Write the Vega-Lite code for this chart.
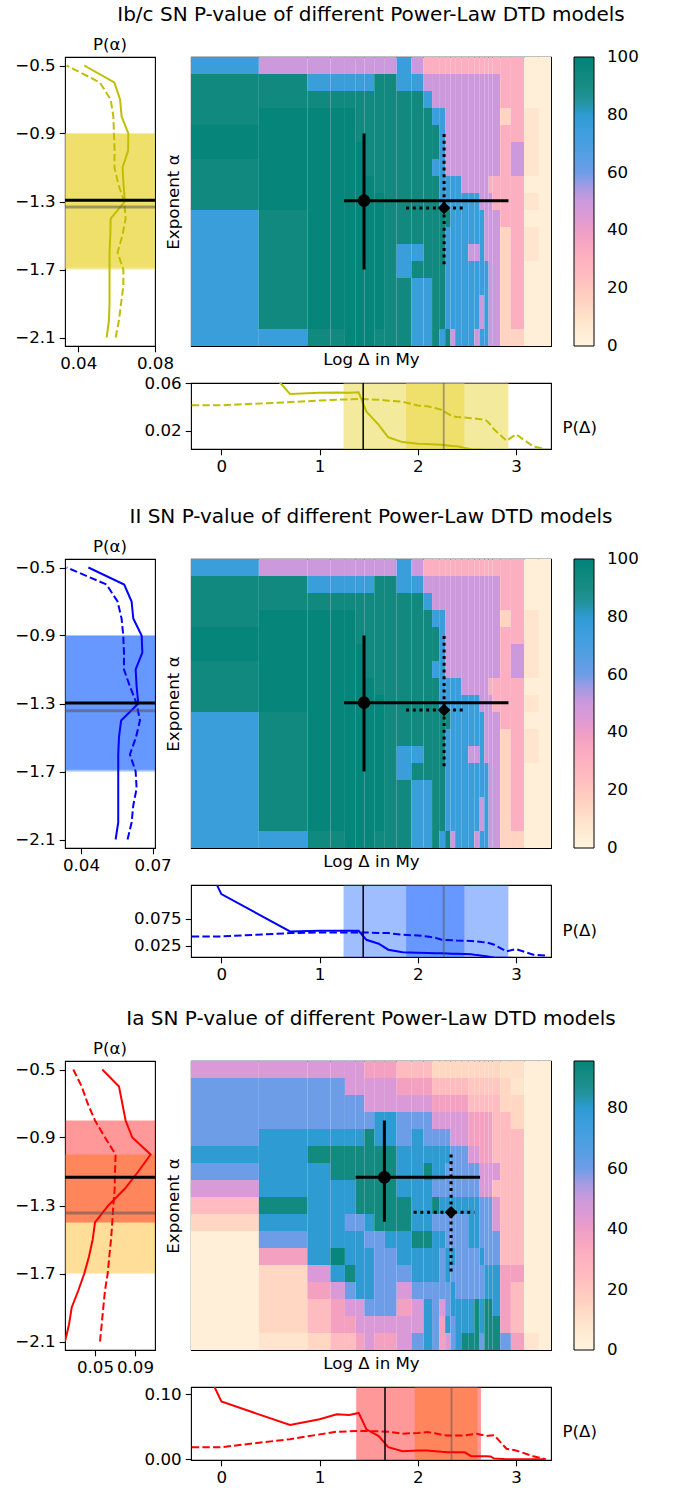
{
"$schema": "https://vega.github.io/schema/vega-lite/v6.json",
"background": "white",
"padding": {"left": 14, "top": 4, "right": 5, "bottom": 5},
"columns": 2,
"bounds": "flush",
"align": "each",
"spacing": {"row": 37, "column": 36},
"resolve": {"scale": {"color": "independent", "strokeDash": "independent", "shape": "independent"}, "legend": {"color": "independent"}},
"config": {
  "font": "DejaVu Sans",
  "view": {"stroke": "black", "strokeWidth": 1.1},
  "axis": {"grid": false, "domain": false, "labelFontSize": 16.67, "titleFontSize": 16.67, "titleFontWeight": "normal", "labelColor": "black", "titleColor": "black", "tickColor": "black", "tickSize": 5.8, "tickWidth": 1.1, "labelPadding": 4, "labelFlush": false, "labelOverlap": false, "labelBound": false, "titlePadding": 6},
  "title": {"fontSize": 16.67, "fontWeight": "normal", "color": "black"},
  "line": {"strokeWidth": 2}
},
"datasets": {
  "cols": [{"i":1,"lo":-0.35,"hi":0.35},{"i":2,"lo":0.35,"hi":0.85},{"i":3,"lo":0.85,"hi":1.088},{"i":4,"lo":1.088,"hi":1.238},{"i":5,"lo":1.238,"hi":1.35},{"i":6,"lo":1.35,"hi":1.438},{"i":7,"lo":1.438,"hi":1.54},{"i":8,"lo":1.54,"hi":1.65},{"i":9,"lo":1.65,"hi":1.772},{"i":10,"lo":1.772,"hi":1.923},{"i":11,"lo":1.923,"hi":2.049},{"i":12,"lo":2.049,"hi":2.137},{"i":13,"lo":2.137,"hi":2.21},{"i":14,"lo":2.21,"hi":2.272},{"i":15,"lo":2.272,"hi":2.327},{"i":16,"lo":2.327,"hi":2.375},{"i":17,"lo":2.375,"hi":2.438},{"i":18,"lo":2.438,"hi":2.51},{"i":19,"lo":2.51,"hi":2.573},{"i":20,"lo":2.573,"hi":2.628},{"i":21,"lo":2.628,"hi":2.676},{"i":22,"lo":2.676,"hi":2.72},{"i":23,"lo":2.72,"hi":2.759},{"i":24,"lo":2.759,"hi":2.84},{"i":25,"lo":2.84,"hi":2.95},{"i":26,"lo":2.95,"hi":3.088},{"i":27,"lo":3.088,"hi":3.239},{"i":28,"lo":3.239,"hi":3.364}],
  "hm12": [
    {"a":-0.5,"p":[76,50,50,50,50,50,50,50,50,76,50,32,32,32,32,32,32,32,32,32,32,32,32,32,32,32,3,3]},
    {"a":-0.6,"p":[93,93,76,76,76,76,76,93,93,76,76,50,50,50,50,50,50,50,50,50,50,50,50,50,32,32,3,3]},
    {"a":-0.7,"p":[93,93,93,93,93,93,93,93,93,93,93,76,50,50,50,50,50,50,50,50,50,50,50,50,32,32,3,3]},
    {"a":-0.8,"p":[93,98,98,98,98,93,93,93,93,93,93,93,76,76,50,50,50,50,50,50,50,50,50,50,15,32,8,3]},
    {"a":-0.9,"p":[98,98,98,98,98,93,93,93,93,93,93,93,93,76,50,50,50,50,50,50,50,50,50,50,32,32,8,3]},
    {"a":-1.0,"p":[98,98,98,98,98,98,93,93,93,93,93,93,93,76,50,50,50,50,50,50,50,50,50,50,32,50,8,3]},
    {"a":-1.1,"p":[93,98,98,98,98,98,93,93,93,93,93,93,76,76,50,50,50,50,50,50,50,50,50,50,32,50,8,3]},
    {"a":-1.2,"p":[93,98,98,98,98,98,98,93,93,93,93,93,93,76,76,76,76,50,50,50,50,50,32,32,32,32,3,3]},
    {"a":-1.3,"p":[93,98,98,98,98,98,98,98,93,93,93,93,93,76,76,76,76,76,76,76,50,50,50,32,32,32,8,3]},
    {"a":-1.4,"p":[76,93,98,98,98,98,98,98,93,93,93,93,93,93,93,76,76,76,76,76,76,50,50,50,32,32,3,3]},
    {"a":-1.5,"p":[76,93,98,98,98,98,98,98,93,93,93,93,93,93,76,76,76,76,76,76,76,50,50,50,15,32,8,3]},
    {"a":-1.6,"p":[76,93,98,98,98,98,98,98,93,76,76,93,93,93,76,76,76,76,50,50,76,50,50,50,15,32,8,3]},
    {"a":-1.7,"p":[76,93,98,98,98,98,98,98,93,76,93,93,93,93,76,76,76,76,76,76,76,76,50,50,15,32,3,3]},
    {"a":-1.8,"p":[76,93,98,98,98,98,98,98,93,93,76,76,93,93,76,76,76,76,76,76,76,76,50,50,15,32,3,3]},
    {"a":-1.9,"p":[76,93,98,98,98,98,98,98,93,93,76,76,93,93,76,76,76,76,76,76,50,76,50,50,15,32,3,3]},
    {"a":-2.0,"p":[76,93,98,98,98,98,98,98,93,93,76,76,93,93,76,76,76,76,76,76,50,76,50,50,15,32,3,3]},
    {"a":-2.1,"p":[76,76,93,93,98,98,98,93,93,93,76,76,93,76,93,50,76,76,76,50,76,76,50,50,15,15,3,3]}
  ],
  "hm3": [
    {"a":-0.5,"p":[46,46,46,46,46,46,38,38,38,24,24,24,14,14,14,14,14,14,14,14,14,14,14,14,10,10,3,3]},
    {"a":-0.6,"p":[60,60,60,60,46,46,46,46,46,38,38,38,24,24,24,24,24,24,20,20,20,20,20,20,14,8,3,3]},
    {"a":-0.7,"p":[60,60,60,60,60,60,46,46,46,46,46,46,38,38,38,38,38,38,24,24,24,24,24,24,14,14,3,3]},
    {"a":-0.8,"p":[60,60,60,60,60,60,60,80,80,60,60,60,46,46,46,46,46,46,38,38,38,38,38,24,24,14,3,3]},
    {"a":-0.9,"p":[60,80,80,80,80,80,92,80,80,60,80,60,60,60,60,46,46,46,38,38,38,38,38,24,24,24,3,3]},
    {"a":-1.0,"p":[80,80,92,92,92,92,92,92,92,80,80,80,80,80,80,60,60,60,46,46,38,38,38,24,24,24,3,3]},
    {"a":-1.1,"p":[60,80,80,92,92,92,92,92,92,80,80,92,80,80,60,60,60,60,60,60,46,46,46,46,24,24,3,3]},
    {"a":-1.2,"p":[46,80,80,80,80,92,92,92,92,80,80,80,60,60,60,60,60,60,60,60,46,46,46,24,24,24,3,3]},
    {"a":-1.3,"p":[24,92,80,80,80,92,92,92,92,92,80,80,92,80,80,80,80,80,80,80,60,60,60,46,24,24,3,3]},
    {"a":-1.4,"p":[14,80,80,80,60,60,80,92,92,92,80,80,60,60,60,60,60,60,80,80,60,60,60,46,24,24,3,3]},
    {"a":-1.5,"p":[3,60,80,80,80,80,60,60,80,80,92,92,80,80,60,60,60,60,80,80,60,60,60,60,24,24,3,3]},
    {"a":-1.6,"p":[3,38,80,95,80,80,80,60,60,80,80,80,80,60,80,80,60,60,60,60,80,60,60,60,24,24,3,3]},
    {"a":-1.7,"p":[3,14,46,80,92,80,80,60,60,60,80,80,80,60,80,60,60,60,60,60,60,80,80,80,38,38,3,3]},
    {"a":-1.8,"p":[3,14,38,46,60,80,80,60,60,46,60,60,60,60,60,80,60,60,60,60,60,80,80,80,38,24,3,3]},
    {"a":-1.9,"p":[3,14,24,38,46,46,60,60,60,38,46,80,60,46,60,80,80,80,80,92,80,92,92,80,38,24,3,3]},
    {"a":-2.0,"p":[3,14,24,38,38,46,46,46,46,46,46,80,60,38,80,60,80,80,80,92,80,92,92,92,38,24,3,3]},
    {"a":-2.1,"p":[3,8,14,24,24,38,46,38,38,46,60,80,60,38,46,60,80,92,92,92,60,92,92,92,60,38,8,3]}
  ],
  "left1": [{"a":-0.5,"s":0.0431,"h":0.0339},{"a":-0.6,"s":0.0588,"h":0.0513},{"a":-0.7,"s":0.0618,"h":0.0569},{"a":-0.8,"s":0.0626,"h":0.0583},{"a":-0.9,"s":0.0661,"h":0.0586},{"a":-1.0,"s":0.066,"h":0.0589},{"a":-1.1,"s":0.0631,"h":0.0589},{"a":-1.2,"s":0.0636,"h":0.0609},{"a":-1.3,"s":0.0643,"h":0.064},{"a":-1.4,"s":0.0569,"h":0.0647},{"a":-1.5,"s":0.0567,"h":0.063},{"a":-1.6,"s":0.0563,"h":0.0605},{"a":-1.7,"s":0.0563,"h":0.0635},{"a":-1.8,"s":0.0563,"h":0.0635},{"a":-1.9,"s":0.0563,"h":0.0623},{"a":-2.0,"s":0.056,"h":0.0612},{"a":-2.1,"s":0.0548,"h":0.0595}],
  "left2": [{"a":-0.5,"s":0.0431,"h":0.034},{"a":-0.6,"s":0.0581,"h":0.0507},{"a":-0.7,"s":0.0612,"h":0.0553},{"a":-0.8,"s":0.0619,"h":0.057},{"a":-0.9,"s":0.0654,"h":0.0577},{"a":-1.0,"s":0.0657,"h":0.058},{"a":-1.1,"s":0.0629,"h":0.058},{"a":-1.2,"s":0.0633,"h":0.0605},{"a":-1.3,"s":0.064,"h":0.0633},{"a":-1.4,"s":0.0568,"h":0.0647},{"a":-1.5,"s":0.0559,"h":0.063},{"a":-1.6,"s":0.0556,"h":0.0605},{"a":-1.7,"s":0.0556,"h":0.0629},{"a":-1.8,"s":0.0556,"h":0.0633},{"a":-1.9,"s":0.0556,"h":0.0619},{"a":-2.0,"s":0.0556,"h":0.0612},{"a":-2.1,"s":0.0545,"h":0.0595}],
  "left3": [{"a":-0.5,"s":0.0573,"h":0.0283},{"a":-0.6,"s":0.074,"h":0.0367},{"a":-0.7,"s":0.0773,"h":0.0427},{"a":-0.8,"s":0.0806,"h":0.05},{"a":-0.9,"s":0.0873,"h":0.06},{"a":-1.0,"s":0.1056,"h":0.0706},{"a":-1.1,"s":0.0933,"h":0.07},{"a":-1.2,"s":0.08,"h":0.0697},{"a":-1.3,"s":0.0633,"h":0.0683},{"a":-1.4,"s":0.05,"h":0.0673},{"a":-1.5,"s":0.0477,"h":0.066},{"a":-1.6,"s":0.044,"h":0.0643},{"a":-1.7,"s":0.0393,"h":0.0627},{"a":-1.8,"s":0.0333,"h":0.06},{"a":-1.9,"s":0.0267,"h":0.0583},{"a":-2.0,"s":0.024,"h":0.0567},{"a":-2.1,"s":0.02,"h":0.055}],
  "bot1": [{"d":-0.301,"s":0.2,"h":0.0413},{"d":0,"s":0.116,"h":0.0413},{"d":0.699,"s":0.0508,"h":0.044},{"d":1,"s":0.0518,"h":0.0453},{"d":1.176,"s":0.052,"h":0.046},{"d":1.301,"s":0.0518,"h":0.0463},{"d":1.398,"s":0.0522,"h":0.0466},{"d":1.477,"s":0.036,"h":0.0464},{"d":1.602,"s":0.025,"h":0.046},{"d":1.699,"s":0.0145,"h":0.0452},{"d":1.845,"s":0.0105,"h":0.0443},{"d":2,"s":0.0092,"h":0.0412},{"d":2.097,"s":0.0088,"h":0.0405},{"d":2.176,"s":0.0085,"h":0.039},{"d":2.243,"s":0.0082,"h":0.0375},{"d":2.301,"s":0.0077,"h":0.0345},{"d":2.352,"s":0.0073,"h":0.0322},{"d":2.398,"s":0.0071,"h":0.0315},{"d":2.477,"s":0.0055,"h":0.031},{"d":2.544,"s":0.0045,"h":0.0305},{"d":2.602,"s":0.0043,"h":0.03},{"d":2.653,"s":0.0041,"h":0.0295},{"d":2.699,"s":0.0035,"h":0.0285},{"d":2.74,"s":0.003,"h":0.025},{"d":2.778,"s":0.0022,"h":0.021},{"d":2.903,"s":0.0016,"h":0.0116},{"d":3,"s":0.0013,"h":0.017},{"d":3.176,"s":0.001,"h":0.0068},{"d":3.301,"s":0.0007,"h":0.0047}],
  "bot2": [{"d":-0.301,"s":0.235,"h":0.0423},{"d":0,"s":0.121,"h":0.0423},{"d":0.699,"s":0.0515,"h":0.0485},{"d":1,"s":0.0528,"h":0.0497},{"d":1.176,"s":0.0528,"h":0.0497},{"d":1.301,"s":0.0528,"h":0.0497},{"d":1.398,"s":0.0528,"h":0.0497},{"d":1.477,"s":0.036,"h":0.0495},{"d":1.602,"s":0.0287,"h":0.0488},{"d":1.699,"s":0.0176,"h":0.0485},{"d":1.845,"s":0.0127,"h":0.0454},{"d":2,"s":0.012,"h":0.044},{"d":2.097,"s":0.0114,"h":0.0423},{"d":2.176,"s":0.0112,"h":0.04},{"d":2.243,"s":0.011,"h":0.0361},{"d":2.301,"s":0.0105,"h":0.0355},{"d":2.352,"s":0.0102,"h":0.035},{"d":2.398,"s":0.0099,"h":0.0345},{"d":2.477,"s":0.0096,"h":0.0343},{"d":2.544,"s":0.009,"h":0.034},{"d":2.602,"s":0.0075,"h":0.033},{"d":2.653,"s":0.0065,"h":0.0318},{"d":2.699,"s":0.0055,"h":0.0312},{"d":2.74,"s":0.004,"h":0.029},{"d":2.778,"s":0.003,"h":0.0269},{"d":2.903,"s":0.0025,"h":0.0145},{"d":3,"s":0.002,"h":0.0188},{"d":3.176,"s":0.0015,"h":0.0083},{"d":3.301,"s":0.001,"h":0.0065}],
  "bot3": [{"d":-0.301,"s":0.185,"h":0.0187},{"d":0,"s":0.0887,"h":0.0187},{"d":0.699,"s":0.0527,"h":0.031},{"d":1,"s":0.0614,"h":0.0383},{"d":1.176,"s":0.0691,"h":0.0424},{"d":1.301,"s":0.0681,"h":0.043},{"d":1.398,"s":0.0712,"h":0.0434},{"d":1.477,"s":0.046,"h":0.0434},{"d":1.602,"s":0.0357,"h":0.043},{"d":1.699,"s":0.0187,"h":0.0424},{"d":1.845,"s":0.0125,"h":0.0393},{"d":2,"s":0.0136,"h":0.0405},{"d":2.097,"s":0.0136,"h":0.0419},{"d":2.176,"s":0.0125,"h":0.04},{"d":2.243,"s":0.0115,"h":0.0375},{"d":2.301,"s":0.011,"h":0.0367},{"d":2.352,"s":0.011,"h":0.0367},{"d":2.398,"s":0.011,"h":0.0367},{"d":2.477,"s":0.0108,"h":0.0367},{"d":2.544,"s":0.0048,"h":0.038},{"d":2.602,"s":0.0048,"h":0.0393},{"d":2.653,"s":0.0048,"h":0.0375},{"d":2.699,"s":0.0048,"h":0.0357},{"d":2.74,"s":0.0045,"h":0.0367},{"d":2.778,"s":0.0012,"h":0.037},{"d":2.903,"s":0.0003,"h":0.0162},{"d":3,"s":0.0002,"h":0.0136},{"d":3.176,"s":0.0002,"h":0.0048},{"d":3.301,"s":0.0002,"h":0.0002}],
  "mk12": [{"m":"a","x":1.435,"y":-1.295,"x0":1.229,"x1":2.925,"y0":-0.9,"y1":-1.7},{"m":"b","x":2.261,"y":-1.338,"x0":1.869,"x1":2.453,"y0":-0.903,"y1":-1.688}],
  "mk3": [{"m":"a","x":1.645,"y":-1.134,"x0":1.349,"x1":2.632,"y0":-0.8,"y1":-1.396},{"m":"b","x":2.333,"y":-1.34,"x0":1.947,"x1":2.574,"y0":-1.0,"y1":-1.694}]
},
"concat": [
  {"width": 90, "height": 289,
   "title": {"text": "P(α)", "offset": -9.5, "baseline": "alphabetic"},
   "layer": [
     {"data": {"values": [{"a": -0.9, "a2": -1.7}]}, "mark": {"type": "rect", "color": "#ead53c", "opacity": 0.5},
      "encoding": {"x": {"value": 0}, "x2": {"value": "width"}, "y": {"field": "a", "type": "quantitative", "scale": {"domain": [-2.15, -0.45], "nice": false, "zero": false}, "axis": {"title": null, "values": [-0.5,-0.7,-0.9,-1.1,-1.3,-1.5,-1.7,-1.9,-2.1], "format": ".1f"}}, "y2": {"field": "a2"}}},
     {"data": {"values": [{"a": -0.9, "a2": -1.69}]}, "mark": {"type": "rect", "color": "#ead53c", "opacity": 0.5},
      "encoding": {"x": {"value": 0}, "x2": {"value": "width"}, "y": {"field": "a", "type": "quantitative", "scale": {"domain": [-2.15, -0.45], "nice": false, "zero": false}}, "y2": {"field": "a2"}}},
     {"data": {"name": "left1"}, "mark": {"type": "line", "color": "#bfbf00", "clip": true},
      "encoding": {"x": {"field": "s", "type": "quantitative", "scale": {"domain": [0.0331, 0.08], "nice": false, "zero": false}, "axis": {"title": null, "values": [0.04, 0.08], "format": ".2f"}}, "y": {"field": "a", "type": "quantitative", "scale": {"domain": [-2.15, -0.45], "nice": false, "zero": false}}, "order": {"field": "a"}}},
     {"data": {"name": "left1"}, "mark": {"type": "line", "color": "#bfbf00", "strokeDash": [7.4, 3.2], "clip": true},
      "encoding": {"x": {"field": "h", "type": "quantitative", "scale": {"domain": [0.0331, 0.08], "nice": false, "zero": false}}, "y": {"field": "a", "type": "quantitative", "scale": {"domain": [-2.15, -0.45], "nice": false, "zero": false}}, "order": {"field": "a"}}},
     {"data": {"values": [{"a": -1.293}]}, "mark": {"type": "rule", "color": "black", "strokeWidth": 3},
      "encoding": {"y": {"field": "a", "type": "quantitative", "scale": {"domain": [-2.15, -0.45], "nice": false, "zero": false}}}},
     {"data": {"values": [{"a": -1.333}]}, "mark": {"type": "rule", "color": "#505050", "opacity": 0.5, "strokeWidth": 3},
      "encoding": {"y": {"field": "a", "type": "quantitative", "scale": {"domain": [-2.15, -0.45], "nice": false, "zero": false}}}}
   ]},
  {"width": 360, "height": 289,
   "title": {"text": "Ib/c SN P-value of different Power-Law DTD models", "fontSize": 20, "offset": 16, "baseline": "alphabetic"},
   "resolve": {"scale": {"y": "independent"}},
   "layer": [
     {"data": {"name": "hm12"},
      "transform": [{"flatten": ["p"]}, {"window": [{"op": "row_number", "as": "i"}], "groupby": ["a"]}, {"lookup": "i", "from": {"data": {"name": "cols"}, "key": "i", "fields": ["lo", "hi"]}}],
      "mark": {"type": "rect"},
      "encoding": {
        "x": {"field": "lo", "type": "quantitative", "scale": {"domain": [-0.35, 3.364], "nice": false, "zero": false}, "axis": {"title": "Log Δ in My", "labels": false, "ticks": false, "titlePadding": 5}},
        "x2": {"field": "hi"},
        "y": {"field": "a", "type": "ordinal", "sort": "descending", "scale": {"paddingInner": 0, "paddingOuter": 0}, "axis": {"title": "Exponent α", "labels": false, "ticks": false, "titlePadding": 9}},
        "color": {"field": "p", "type": "quantitative",
          "scale": {"domain": [0,6,12,18,24,32,38,45,52,60,68,76,80,86,92,98,100], "range": ["#fff4de","#ffead2","#ffdcc6","#ffccbe","#ffbcc0","#fcafc0","#f4a0c0","#dc9ad6","#c69ade","#6e9de8","#4c9fe2","#3a9edb","#2e9bd2","#1f918f","#138a80","#06857b","#00837a"], "interpolate": "rgb"},
          "legend": {"orient": "none", "legendX": 383, "legendY": 0, "padding": 0, "title": null, "gradientLength": 289, "gradientThickness": 20, "labelFontSize": 16.67, "labelColor": "black", "labelOffset": 13, "labelOverlap": false, "values": [0,20,40,60,80,100], "format": "d", "gradientStrokeColor": "black", "gradientStrokeWidth": 1, "encode": {"labels": {"update": {"baseline": {"value": "middle"}}}}}}
      }},
     {"data": {"name": "mk12"}, "mark": {"type": "rule", "color": "black", "strokeWidth": 3, "strokeCap": "butt"},
      "encoding": {"x": {"field": "x0", "type": "quantitative", "scale": {"domain": [-0.35, 3.364], "nice": false, "zero": false}}, "x2": {"field": "x1"}, "y": {"field": "y", "type": "quantitative", "scale": {"domain": [-2.15, -0.45], "nice": false, "zero": false}, "axis": null}, "strokeDash": {"field": "m", "type": "nominal", "scale": {"domain": ["a", "b"], "range": [[1, 0], [3, 3.7]]}, "legend": null}}},
     {"data": {"name": "mk12"}, "mark": {"type": "rule", "color": "black", "strokeWidth": 3, "strokeCap": "butt"},
      "encoding": {"x": {"field": "x", "type": "quantitative", "scale": {"domain": [-0.35, 3.364], "nice": false, "zero": false}}, "y": {"field": "y0", "type": "quantitative", "scale": {"domain": [-2.15, -0.45], "nice": false, "zero": false}, "axis": null}, "y2": {"field": "y1"}, "strokeDash": {"field": "m", "type": "nominal", "scale": {"domain": ["a", "b"], "range": [[1, 0], [3, 3.7]]}, "legend": null}}},
     {"data": {"name": "mk12"}, "mark": {"type": "point", "filled": true, "color": "black", "opacity": 1, "size": 160},
      "encoding": {"x": {"field": "x", "type": "quantitative", "scale": {"domain": [-0.35, 3.364], "nice": false, "zero": false}}, "y": {"field": "y", "type": "quantitative", "scale": {"domain": [-2.15, -0.45], "nice": false, "zero": false}, "axis": null}, "shape": {"field": "m", "type": "nominal", "scale": {"domain": ["a", "b"], "range": ["circle", "diamond"]}, "legend": null}}}
   ]},
  {"width": 90, "height": 139, "view": {"stroke": null}, "data": {"values": [{}]}, "mark": {"type": "point", "opacity": 0}, "encoding": {}},
  {"width": 360, "height": 66,
   "layer": [
     {"data": {"values": [{"d": 1.244, "d2": 2.922}]}, "mark": {"type": "rect", "color": "#ead53c", "opacity": 0.5},
      "encoding": {"x": {"field": "d", "type": "quantitative", "scale": {"domain": [-0.309, 3.356], "nice": false, "zero": false}, "axis": {"title": null, "values": [0, 1, 2, 3], "format": "d"}}, "x2": {"field": "d2"}, "y": {"value": 0}, "y2": {"value": "height"}}},
     {"data": {"values": [{"d": 1.881, "d2": 2.474}]}, "mark": {"type": "rect", "color": "#ead53c", "opacity": 0.5},
      "encoding": {"x": {"field": "d", "type": "quantitative", "scale": {"domain": [-0.309, 3.356], "nice": false, "zero": false}}, "x2": {"field": "d2"}, "y": {"value": 0}, "y2": {"value": "height"}}},
     {"data": {"name": "bot1"}, "mark": {"type": "line", "color": "#bfbf00", "clip": true},
      "encoding": {"x": {"field": "d", "type": "quantitative", "scale": {"domain": [-0.309, 3.356], "nice": false, "zero": false}}, "y": {"field": "s", "type": "quantitative", "scale": {"domain": [0.0047, 0.06], "nice": false, "zero": false}, "axis": {"title": "P(Δ)", "titleAngle": 0, "titleX": 371, "titleY": 44, "titleAlign": "left", "titleBaseline": "middle", "values": [0.02, 0.06], "format": ".2f"}}}},
     {"data": {"name": "bot1"}, "mark": {"type": "line", "color": "#bfbf00", "strokeDash": [7.4, 3.2], "clip": true},
      "encoding": {"x": {"field": "d", "type": "quantitative", "scale": {"domain": [-0.309, 3.356], "nice": false, "zero": false}}, "y": {"field": "h", "type": "quantitative", "scale": {"domain": [0.0047, 0.06], "nice": false, "zero": false}}}},
     {"data": {"values": [{"d": 1.444}]}, "mark": {"type": "rule", "color": "black", "strokeWidth": 1.5},
      "encoding": {"x": {"field": "d", "type": "quantitative", "scale": {"domain": [-0.309, 3.356], "nice": false, "zero": false}}}},
     {"data": {"values": [{"d": 2.264}]}, "mark": {"type": "rule", "color": "#505050", "opacity": 0.5, "strokeWidth": 1.8},
      "encoding": {"x": {"field": "d", "type": "quantitative", "scale": {"domain": [-0.309, 3.356], "nice": false, "zero": false}}}}
   ]},
  {"width": 90, "height": 289,
   "title": {"text": "P(α)", "offset": -9.5, "baseline": "alphabetic"},
   "layer": [
     {"data": {"values": [{"a": -0.9, "a2": -1.7}]}, "mark": {"type": "rect", "color": "#1a64ff", "opacity": 0.42},
      "encoding": {"x": {"value": 0}, "x2": {"value": "width"}, "y": {"field": "a", "type": "quantitative", "scale": {"domain": [-2.15, -0.45], "nice": false, "zero": false}, "axis": {"title": null, "values": [-0.5,-0.7,-0.9,-1.1,-1.3,-1.5,-1.7,-1.9,-2.1], "format": ".1f"}}, "y2": {"field": "a2"}}},
     {"data": {"values": [{"a": -0.9, "a2": -1.69}]}, "mark": {"type": "rect", "color": "#1a64ff", "opacity": 0.42},
      "encoding": {"x": {"value": 0}, "x2": {"value": "width"}, "y": {"field": "a", "type": "quantitative", "scale": {"domain": [-2.15, -0.45], "nice": false, "zero": false}}, "y2": {"field": "a2"}}},
     {"data": {"name": "left2"}, "mark": {"type": "line", "color": "#0000ff", "clip": true},
      "encoding": {"x": {"field": "s", "type": "quantitative", "scale": {"domain": [0.0333, 0.071], "nice": false, "zero": false}, "axis": {"title": null, "values": [0.04, 0.07], "format": ".2f"}}, "y": {"field": "a", "type": "quantitative", "scale": {"domain": [-2.15, -0.45], "nice": false, "zero": false}}, "order": {"field": "a"}}},
     {"data": {"name": "left2"}, "mark": {"type": "line", "color": "#0000ff", "strokeDash": [7.4, 3.2], "clip": true},
      "encoding": {"x": {"field": "h", "type": "quantitative", "scale": {"domain": [0.0333, 0.071], "nice": false, "zero": false}}, "y": {"field": "a", "type": "quantitative", "scale": {"domain": [-2.15, -0.45], "nice": false, "zero": false}}, "order": {"field": "a"}}},
     {"data": {"values": [{"a": -1.297}]}, "mark": {"type": "rule", "color": "black", "strokeWidth": 3},
      "encoding": {"y": {"field": "a", "type": "quantitative", "scale": {"domain": [-2.15, -0.45], "nice": false, "zero": false}}}},
     {"data": {"values": [{"a": -1.342}]}, "mark": {"type": "rule", "color": "#505050", "opacity": 0.5, "strokeWidth": 3},
      "encoding": {"y": {"field": "a", "type": "quantitative", "scale": {"domain": [-2.15, -0.45], "nice": false, "zero": false}}}}
   ]},
  {"width": 360, "height": 289,
   "title": {"text": "II SN P-value of different Power-Law DTD models", "fontSize": 20, "offset": 16, "baseline": "alphabetic"},
   "resolve": {"scale": {"y": "independent"}},
   "layer": [
     {"data": {"name": "hm12"},
      "transform": [{"flatten": ["p"]}, {"window": [{"op": "row_number", "as": "i"}], "groupby": ["a"]}, {"lookup": "i", "from": {"data": {"name": "cols"}, "key": "i", "fields": ["lo", "hi"]}}],
      "mark": {"type": "rect"},
      "encoding": {
        "x": {"field": "lo", "type": "quantitative", "scale": {"domain": [-0.35, 3.364], "nice": false, "zero": false}, "axis": {"title": "Log Δ in My", "labels": false, "ticks": false, "titlePadding": 5}},
        "x2": {"field": "hi"},
        "y": {"field": "a", "type": "ordinal", "sort": "descending", "scale": {"paddingInner": 0, "paddingOuter": 0}, "axis": {"title": "Exponent α", "labels": false, "ticks": false, "titlePadding": 9}},
        "color": {"field": "p", "type": "quantitative",
          "scale": {"domain": [0,6,12,18,24,32,38,45,52,60,68,76,80,86,92,98,100], "range": ["#fff4de","#ffead2","#ffdcc6","#ffccbe","#ffbcc0","#fcafc0","#f4a0c0","#dc9ad6","#c69ade","#6e9de8","#4c9fe2","#3a9edb","#2e9bd2","#1f918f","#138a80","#06857b","#00837a"], "interpolate": "rgb"},
          "legend": {"orient": "none", "legendX": 383, "legendY": 0, "padding": 0, "title": null, "gradientLength": 289, "gradientThickness": 20, "labelFontSize": 16.67, "labelColor": "black", "labelOffset": 13, "labelOverlap": false, "values": [0,20,40,60,80,100], "format": "d", "gradientStrokeColor": "black", "gradientStrokeWidth": 1, "encode": {"labels": {"update": {"baseline": {"value": "middle"}}}}}}
      }},
     {"data": {"name": "mk12"}, "mark": {"type": "rule", "color": "black", "strokeWidth": 3, "strokeCap": "butt"},
      "encoding": {"x": {"field": "x0", "type": "quantitative", "scale": {"domain": [-0.35, 3.364], "nice": false, "zero": false}}, "x2": {"field": "x1"}, "y": {"field": "y", "type": "quantitative", "scale": {"domain": [-2.15, -0.45], "nice": false, "zero": false}, "axis": null}, "strokeDash": {"field": "m", "type": "nominal", "scale": {"domain": ["a", "b"], "range": [[1, 0], [3, 3.7]]}, "legend": null}}},
     {"data": {"name": "mk12"}, "mark": {"type": "rule", "color": "black", "strokeWidth": 3, "strokeCap": "butt"},
      "encoding": {"x": {"field": "x", "type": "quantitative", "scale": {"domain": [-0.35, 3.364], "nice": false, "zero": false}}, "y": {"field": "y0", "type": "quantitative", "scale": {"domain": [-2.15, -0.45], "nice": false, "zero": false}, "axis": null}, "y2": {"field": "y1"}, "strokeDash": {"field": "m", "type": "nominal", "scale": {"domain": ["a", "b"], "range": [[1, 0], [3, 3.7]]}, "legend": null}}},
     {"data": {"name": "mk12"}, "mark": {"type": "point", "filled": true, "color": "black", "opacity": 1, "size": 160},
      "encoding": {"x": {"field": "x", "type": "quantitative", "scale": {"domain": [-0.35, 3.364], "nice": false, "zero": false}}, "y": {"field": "y", "type": "quantitative", "scale": {"domain": [-2.15, -0.45], "nice": false, "zero": false}, "axis": null}, "shape": {"field": "m", "type": "nominal", "scale": {"domain": ["a", "b"], "range": ["circle", "diamond"]}, "legend": null}}}
   ]},
  {"width": 90, "height": 139, "view": {"stroke": null}, "data": {"values": [{}]}, "mark": {"type": "point", "opacity": 0}, "encoding": {}},
  {"width": 360, "height": 72,
   "layer": [
     {"data": {"values": [{"d": 1.244, "d2": 2.922}]}, "mark": {"type": "rect", "color": "#1a64ff", "opacity": 0.42},
      "encoding": {"x": {"field": "d", "type": "quantitative", "scale": {"domain": [-0.309, 3.356], "nice": false, "zero": false}, "axis": {"title": null, "values": [0, 1, 2, 3], "format": "d"}}, "x2": {"field": "d2"}, "y": {"value": 0}, "y2": {"value": "height"}}},
     {"data": {"values": [{"d": 1.881, "d2": 2.474}]}, "mark": {"type": "rect", "color": "#1a64ff", "opacity": 0.42},
      "encoding": {"x": {"field": "d", "type": "quantitative", "scale": {"domain": [-0.309, 3.356], "nice": false, "zero": false}}, "x2": {"field": "d2"}, "y": {"value": 0}, "y2": {"value": "height"}}},
     {"data": {"name": "bot2"}, "mark": {"type": "line", "color": "#0000ff", "clip": true},
      "encoding": {"x": {"field": "d", "type": "quantitative", "scale": {"domain": [-0.309, 3.356], "nice": false, "zero": false}}, "y": {"field": "s", "type": "quantitative", "scale": {"domain": [0.004, 0.138], "nice": false, "zero": false}, "axis": {"title": "P(Δ)", "titleAngle": 0, "titleX": 371, "titleY": 45, "titleAlign": "left", "titleBaseline": "middle", "values": [0.025, 0.075], "format": ".3f"}}}},
     {"data": {"name": "bot2"}, "mark": {"type": "line", "color": "#0000ff", "strokeDash": [7.4, 3.2], "clip": true},
      "encoding": {"x": {"field": "d", "type": "quantitative", "scale": {"domain": [-0.309, 3.356], "nice": false, "zero": false}}, "y": {"field": "h", "type": "quantitative", "scale": {"domain": [0.004, 0.138], "nice": false, "zero": false}}}},
     {"data": {"values": [{"d": 1.444}]}, "mark": {"type": "rule", "color": "black", "strokeWidth": 1.5},
      "encoding": {"x": {"field": "d", "type": "quantitative", "scale": {"domain": [-0.309, 3.356], "nice": false, "zero": false}}}},
     {"data": {"values": [{"d": 2.264}]}, "mark": {"type": "rule", "color": "#505050", "opacity": 0.5, "strokeWidth": 1.8},
      "encoding": {"x": {"field": "d", "type": "quantitative", "scale": {"domain": [-0.309, 3.356], "nice": false, "zero": false}}}}
   ]},
  {"width": 90, "height": 289,
   "title": {"text": "P(α)", "offset": -9.5, "baseline": "alphabetic"},
   "layer": [
     {"data": {"values": [{"a": -1.0, "a2": -1.7}]}, "mark": {"type": "rect", "color": "#ffad00", "opacity": 0.4},
      "encoding": {"x": {"value": 0}, "x2": {"value": "width"}, "y": {"field": "a", "type": "quantitative", "scale": {"domain": [-2.15, -0.45], "nice": false, "zero": false}, "axis": {"title": null, "values": [-0.5,-0.7,-0.9,-1.1,-1.3,-1.5,-1.7,-1.9,-2.1], "format": ".1f"}}, "y2": {"field": "a2"}}},
     {"data": {"values": [{"a": -0.8, "a2": -1.4}]}, "mark": {"type": "rect", "color": "#ff0000", "opacity": 0.4},
      "encoding": {"x": {"value": 0}, "x2": {"value": "width"}, "y": {"field": "a", "type": "quantitative", "scale": {"domain": [-2.15, -0.45], "nice": false, "zero": false}}, "y2": {"field": "a2"}}},
     {"data": {"name": "left3"}, "mark": {"type": "line", "color": "#ff0000", "clip": true},
      "encoding": {"x": {"field": "s", "type": "quantitative", "scale": {"domain": [0.02, 0.11], "nice": false, "zero": false}, "axis": {"title": null, "values": [0.05, 0.09], "format": ".2f"}}, "y": {"field": "a", "type": "quantitative", "scale": {"domain": [-2.15, -0.45], "nice": false, "zero": false}}, "order": {"field": "a"}}},
     {"data": {"name": "left3"}, "mark": {"type": "line", "color": "#ff0000", "strokeDash": [7.4, 3.2], "clip": true},
      "encoding": {"x": {"field": "h", "type": "quantitative", "scale": {"domain": [0.02, 0.11], "nice": false, "zero": false}}, "y": {"field": "a", "type": "quantitative", "scale": {"domain": [-2.15, -0.45], "nice": false, "zero": false}}, "order": {"field": "a"}}},
     {"data": {"values": [{"a": -1.134}]}, "mark": {"type": "rule", "color": "black", "strokeWidth": 3},
      "encoding": {"y": {"field": "a", "type": "quantitative", "scale": {"domain": [-2.15, -0.45], "nice": false, "zero": false}}}},
     {"data": {"values": [{"a": -1.344}]}, "mark": {"type": "rule", "color": "#505050", "opacity": 0.5, "strokeWidth": 3},
      "encoding": {"y": {"field": "a", "type": "quantitative", "scale": {"domain": [-2.15, -0.45], "nice": false, "zero": false}}}}
   ]},
  {"width": 360, "height": 289,
   "title": {"text": "Ia SN P-value of different Power-Law DTD models", "fontSize": 20, "offset": 16, "baseline": "alphabetic"},
   "resolve": {"scale": {"y": "independent"}},
   "layer": [
     {"data": {"name": "hm3"},
      "transform": [{"flatten": ["p"]}, {"window": [{"op": "row_number", "as": "i"}], "groupby": ["a"]}, {"lookup": "i", "from": {"data": {"name": "cols"}, "key": "i", "fields": ["lo", "hi"]}}],
      "mark": {"type": "rect"},
      "encoding": {
        "x": {"field": "lo", "type": "quantitative", "scale": {"domain": [-0.35, 3.364], "nice": false, "zero": false}, "axis": {"title": "Log Δ in My", "labels": false, "ticks": false, "titlePadding": 5}},
        "x2": {"field": "hi"},
        "y": {"field": "a", "type": "ordinal", "sort": "descending", "scale": {"paddingInner": 0, "paddingOuter": 0}, "axis": {"title": "Exponent α", "labels": false, "ticks": false, "titlePadding": 9}},
        "color": {"field": "p", "type": "quantitative",
          "scale": {"domain": [0,6,12,18,24,32,38,45,52,60,68,76,80,86,92,95.6], "range": ["#fff4de","#ffead2","#ffdcc6","#ffccbe","#ffbcc0","#fcafc0","#f4a0c0","#dc9ad6","#c69ade","#6e9de8","#4c9fe2","#3a9edb","#2e9bd2","#1f918f","#138a80","#06857b"], "interpolate": "rgb"},
          "legend": {"orient": "none", "legendX": 383, "legendY": 0, "padding": 0, "title": null, "gradientLength": 289, "gradientThickness": 20, "labelFontSize": 16.67, "labelColor": "black", "labelOffset": 13, "labelOverlap": false, "values": [0,20,40,60,80], "format": "d", "gradientStrokeColor": "black", "gradientStrokeWidth": 1, "encode": {"labels": {"update": {"baseline": {"value": "middle"}}}}}}
      }},
     {"data": {"name": "mk3"}, "mark": {"type": "rule", "color": "black", "strokeWidth": 3, "strokeCap": "butt"},
      "encoding": {"x": {"field": "x0", "type": "quantitative", "scale": {"domain": [-0.35, 3.364], "nice": false, "zero": false}}, "x2": {"field": "x1"}, "y": {"field": "y", "type": "quantitative", "scale": {"domain": [-2.15, -0.45], "nice": false, "zero": false}, "axis": null}, "strokeDash": {"field": "m", "type": "nominal", "scale": {"domain": ["a", "b"], "range": [[1, 0], [3, 3.7]]}, "legend": null}}},
     {"data": {"name": "mk3"}, "mark": {"type": "rule", "color": "black", "strokeWidth": 3, "strokeCap": "butt"},
      "encoding": {"x": {"field": "x", "type": "quantitative", "scale": {"domain": [-0.35, 3.364], "nice": false, "zero": false}}, "y": {"field": "y0", "type": "quantitative", "scale": {"domain": [-2.15, -0.45], "nice": false, "zero": false}, "axis": null}, "y2": {"field": "y1"}, "strokeDash": {"field": "m", "type": "nominal", "scale": {"domain": ["a", "b"], "range": [[1, 0], [3, 3.7]]}, "legend": null}}},
     {"data": {"name": "mk3"}, "mark": {"type": "point", "filled": true, "color": "black", "opacity": 1, "size": 160},
      "encoding": {"x": {"field": "x", "type": "quantitative", "scale": {"domain": [-0.35, 3.364], "nice": false, "zero": false}}, "y": {"field": "y", "type": "quantitative", "scale": {"domain": [-2.15, -0.45], "nice": false, "zero": false}, "axis": null}, "shape": {"field": "m", "type": "nominal", "scale": {"domain": ["a", "b"], "range": ["circle", "diamond"]}, "legend": null}}}
   ]},
  {"width": 90, "height": 73, "view": {"stroke": null}, "data": {"values": [{}]}, "mark": {"type": "point", "opacity": 0}, "encoding": {}},
  {"width": 360, "height": 73,
   "layer": [
     {"data": {"values": [{"d": 1.969, "d2": 2.608}]}, "mark": {"type": "rect", "color": "#ffad00", "opacity": 0.4},
      "encoding": {"x": {"field": "d", "type": "quantitative", "scale": {"domain": [-0.309, 3.356], "nice": false, "zero": false}, "axis": {"title": null, "values": [0, 1, 2, 3], "format": "d"}}, "x2": {"field": "d2"}, "y": {"value": 0}, "y2": {"value": "height"}}},
     {"data": {"values": [{"d": 1.373, "d2": 2.643}]}, "mark": {"type": "rect", "color": "#ff0000", "opacity": 0.4},
      "encoding": {"x": {"field": "d", "type": "quantitative", "scale": {"domain": [-0.309, 3.356], "nice": false, "zero": false}}, "x2": {"field": "d2"}, "y": {"value": 0}, "y2": {"value": "height"}}},
     {"data": {"name": "bot3"}, "mark": {"type": "line", "color": "#ff0000", "clip": true},
      "encoding": {"x": {"field": "d", "type": "quantitative", "scale": {"domain": [-0.309, 3.356], "nice": false, "zero": false}}, "y": {"field": "s", "type": "quantitative", "scale": {"domain": [-0.001, 0.111], "nice": false, "zero": false}, "axis": {"title": "P(Δ)", "titleAngle": 0, "titleX": 371, "titleY": 44, "titleAlign": "left", "titleBaseline": "middle", "values": [0, 0.05, 0.1], "format": ".2f"}}}},
     {"data": {"name": "bot3"}, "mark": {"type": "line", "color": "#ff0000", "strokeDash": [7.4, 3.2], "clip": true},
      "encoding": {"x": {"field": "d", "type": "quantitative", "scale": {"domain": [-0.309, 3.356], "nice": false, "zero": false}}, "y": {"field": "h", "type": "quantitative", "scale": {"domain": [-0.001, 0.111], "nice": false, "zero": false}}}},
     {"data": {"values": [{"d": 1.666}]}, "mark": {"type": "rule", "color": "black", "strokeWidth": 1.5},
      "encoding": {"x": {"field": "d", "type": "quantitative", "scale": {"domain": [-0.309, 3.356], "nice": false, "zero": false}}}},
     {"data": {"values": [{"d": 2.343}]}, "mark": {"type": "rule", "color": "#505050", "opacity": 0.5, "strokeWidth": 1.8},
      "encoding": {"x": {"field": "d", "type": "quantitative", "scale": {"domain": [-0.309, 3.356], "nice": false, "zero": false}}}}
   ]}
]
}
